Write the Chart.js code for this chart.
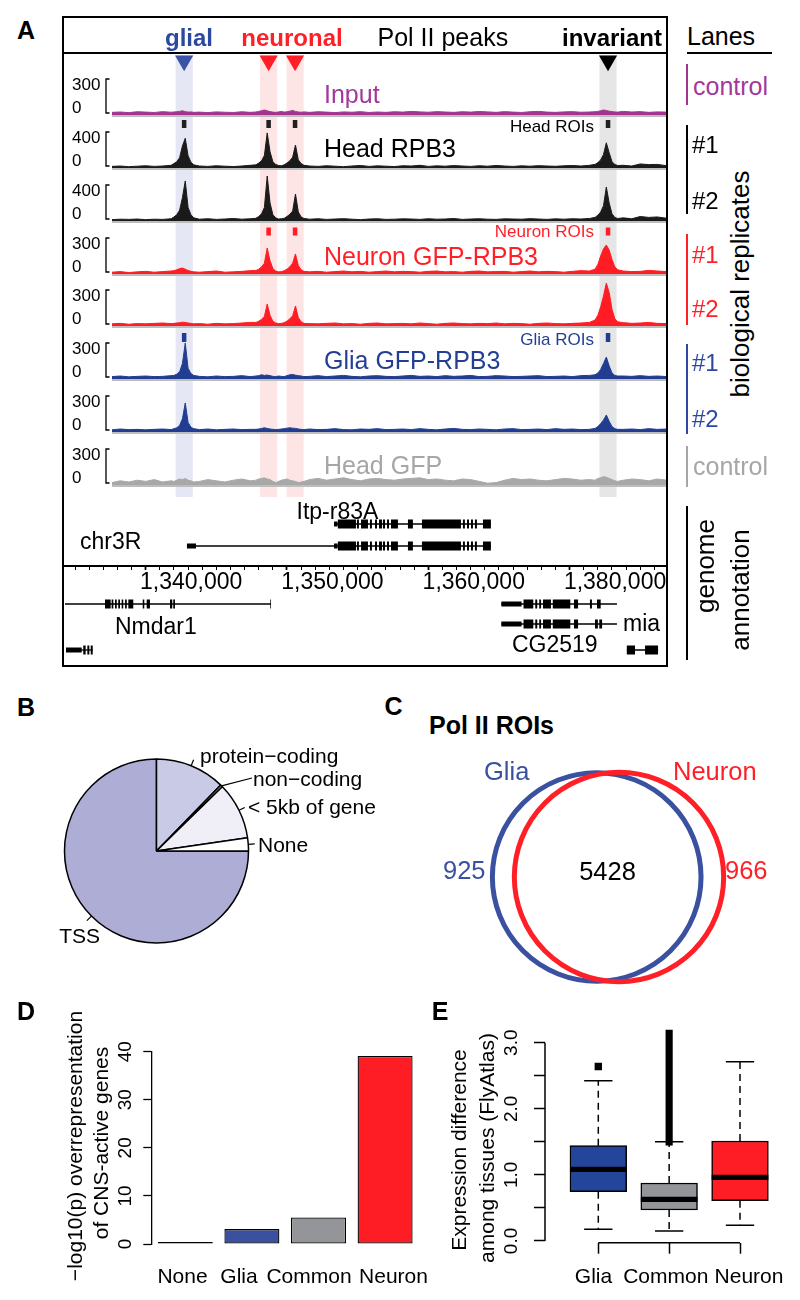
<!DOCTYPE html>
<html><head><meta charset="utf-8">
<script src="https://cdn.jsdelivr.net/npm/chart.js@4.4.1/dist/chart.umd.min.js"></script>
<style>
html,body{margin:0;padding:0;background:#fff;}
body{width:800px;height:1300px;position:relative;overflow:hidden;font-family:"Liberation Sans",Arial,Helvetica,sans-serif;color:#000;}
.t{position:absolute;white-space:nowrap;line-height:1;}
canvas{position:absolute;}
.r{position:absolute;}
</style></head><body>
<script>
// ================= DATA =================
// Panel A: peaks / ROIs (genomic kb, equal-spaced axis frame)
const peakNames = ['glial','neuronal','neuronal','invariant'];
const peakKb = [1342.72, 1348.70, 1350.57, 1372.72];
const headROI   = [true, true, true, true];
const neuronROI = [false, true, true, true];
const gliaROI   = [true, false, false, true];

const trackNames = ['Input','Head RPB3','','Neuron GFP-RPB3','','Glia GFP-RPB3','','Head GFP'];
const trackScaleMax = [300, 400, 400, 300, 300, 300, 300, 300];

const trackX = [
 1337.6,1338.2,1338.8,1339.4,1340.0,1340.6,1341.2,1341.8,
 1342.0,1342.2,1342.4,1342.6,1342.8,1343.0,1343.2,1343.4,
 1343.8,1344.4,1345.0,1345.6,1346.2,1346.8,1347.4,
 1347.8,1348.0,1348.2,1348.4,1348.6,1348.8,1349.0,1349.2,1349.4,1349.6,1349.8,1350.0,1350.2,1350.4,1350.6,1350.8,1351.0,1351.2,
 1351.6,1352.2,1352.8,1353.4,1354.0,1354.6,1355.2,1355.8,1356.4,1357.0,
 1357.6,1358.2,1358.8,1359.4,1360.0,1360.6,1361.2,1361.8,1362.4,1363.0,
 1363.6,1364.2,1364.8,1365.4,1366.0,1366.6,1367.2,1367.8,1368.4,1369.0,
 1369.6,1370.2,1370.8,1371.4,
 1371.8,1372.0,1372.2,1372.4,1372.6,1372.8,1373.0,1373.2,1373.4,
 1373.8,1374.4,1375.0,1375.6,1376.2,1376.9];

const sigInput = [
 22,25,20,27,24,21,28,23,
 25,27,30,35,28,24,26,22,
 24,20,26,23,21,27,22,
 25,30,36,42,35,28,24,22,26,30,24,27,32,38,30,25,23,26,
 22,27,24,20,26,23,28,21,25,22, 27,24,30,26,23,28,25,22,27,24, 29,26,22,28,24,21,27,30,24,22, 26,28,23,25,
 27,30,35,42,38,32,28,26,24,
 30,25,28,22,26,24];
const sigHead1 = [
 18,22,15,20,25,18,22,30,
 50,70,115,245,330,135,65,35,
 22,18,25,20,16,22,30,
 35,55,80,140,390,180,70,40,28,25,35,55,80,120,255,90,50,30,
 22,18,25,20,15,22,28,18,24,20, 16,25,22,30,18,24,20,27,22,18, 25,20,28,22,18,24,20,26,22,19, 24,28,22,30,
 40,60,90,150,280,170,70,40,28,
 30,22,45,38,40,25];
const sigHead2 = [
 15,20,18,22,15,20,18,25,
 45,70,120,260,445,150,70,35,
 20,25,18,22,28,20,25,
 30,50,80,150,500,200,70,35,22,25,30,50,75,110,300,100,45,28,
 20,25,18,22,26,20,15,22,25,18, 20,24,22,18,25,20,22,28,18,22, 25,20,18,24,22,20,26,22,18,24, 20,25,22,28,
 40,65,100,170,378,200,80,40,28,
 35,25,50,40,45,30];
const sigNeuron1 = [
 15,20,12,18,22,15,20,25,
 28,35,45,50,40,30,22,18,
 15,20,25,15,18,22,28,
 30,40,60,90,217,110,45,25,18,20,28,40,60,90,167,70,35,22,
 18,22,15,20,25,18,22,15,20,25, 18,22,20,15,22,25,18,20,15,22, 25,18,20,22,15,20,25,18,22,20, 15,22,28,25,
 40,80,150,210,242,200,120,60,35,
 25,20,22,30,25,20];
const sigNeuron2 = [
 18,22,15,20,18,22,25,20,
 22,25,28,32,30,25,22,18,
 20,15,22,18,20,25,30,
 30,40,55,80,183,90,40,25,20,22,28,40,60,85,167,70,35,22,
 20,18,22,25,18,20,15,22,25,18, 20,22,18,25,20,15,22,25,20,18, 22,20,25,18,22,20,15,22,25,20, 18,22,25,30,
 50,90,160,250,358,280,140,60,35,
 28,22,25,30,22,20];
const sigGlia1 = [
 20,25,18,22,25,20,22,28,
 30,40,60,130,300,90,45,30,
 22,18,25,20,22,28,20,
 25,28,35,30,33,28,22,20,25,22,20,28,35,38,32,28,25,20,
 22,28,20,25,30,22,18,25,28,22, 20,25,30,22,25,20,28,22,25,30, 20,22,28,25,20,22,25,28,20,22, 25,20,28,30,
 35,50,80,130,183,110,50,30,25,
 25,22,28,22,25,20];
const sigGlia2 = [
 18,25,20,22,18,22,25,20,
 28,35,55,110,242,80,40,28,
 20,25,18,22,25,20,22,
 22,25,30,35,30,25,22,20,22,25,28,32,35,32,30,25,22,20,
 25,20,22,28,20,18,25,22,28,20, 22,25,20,28,22,18,25,30,22,20, 25,22,18,25,28,20,22,25,20,28, 22,25,20,22,
 30,45,70,100,142,90,45,28,22,
 22,25,20,28,22,25];
const sigHeadGFP = [
 20,35,25,40,30,45,25,35,
 30,40,50,45,55,40,35,25,
 30,45,35,25,40,50,35,
 40,50,55,60,50,45,30,20,30,40,45,50,40,35,30,20,25,30,
 45,55,40,50,60,45,35,50,55,45, 40,50,55,60,45,50,40,35,50,45, 30,15,20,40,55,45,50,40,35,45, 55,50,40,45,
 40,55,60,70,65,55,45,35,30,
 40,50,45,35,50,40];
const trackSignals = [sigInput, sigHead1, sigHead2, sigNeuron1, sigNeuron2, sigGlia1, sigGlia2, sigHeadGFP];

// gene models (kb)
const itpExons = [[1353.60,1354.88],[1354.95,1355.09],[1355.24,1355.73],[1355.87,1356.01],[1356.23,1356.37],[1356.51,1356.72],[1356.79,1356.94],[1357.08,1357.22],[1357.36,1357.85],[1358.56,1358.91],[1359.55,1362.31],[1362.45,1362.59],[1362.74,1362.88],[1363.02,1363.16],[1363.30,1363.44],[1363.87,1364.43]];
const transcripts = [
 {gene:'Itp-r83A', span:[1353.33,1364.43], utr:[[1353.33,1353.58]], exons:itpExons},
 {gene:'Itp-r83A', span:[1342.92,1364.43], utr:[[1342.92,1343.56],[1353.33,1353.58]], exons:itpExons},
 {gene:'Nmdar1', span:[1334.29,1348.87], utr:[], exons:[[1337.12,1337.52],[1337.59,1337.71],[1337.83,1337.95],[1338.06,1338.18],[1338.30,1338.41],[1338.54,1338.66],[1338.77,1339.12],[1339.79,1339.90],[1340.07,1340.30],[1341.72,1341.88],[1341.95,1342.07],[1348.82,1348.87]]},
 {gene:'left', span:[1334.36,1336.25], utr:[[1334.36,1335.47]], exons:[[1335.58,1335.75],[1335.87,1336.01],[1336.11,1336.25]]},
 {gene:'CG2519', span:[1365.17,1373.35], utr:[[1365.17,1366.60]], exons:[[1366.74,1367.43],[1367.57,1367.71],[1367.85,1367.98],[1368.12,1368.68],[1368.81,1370.05],[1370.31,1370.60],[1371.44,1371.58],[1371.94,1372.20],[1373.30,1373.35]]},
 {gene:'CG2519', span:[1365.17,1373.35], utr:[[1365.17,1366.60]], exons:[[1366.74,1367.43],[1367.57,1367.71],[1367.85,1367.98],[1368.12,1368.68],[1368.81,1370.05],[1370.31,1370.60],[1371.80,1372.00],[1372.10,1372.30],[1373.30,1373.35]]},
 {gene:'mia', span:[1374.05,1376.26], utr:[], exons:[[1374.05,1374.63],[1375.34,1376.26]]}
];
const axisTickKb = [1340, 1350, 1360, 1370];
const axisTickLabels = ['1,340,000','1,350,000','1,360,000','1,380,000'];

// Panel B
const pieLabels = ['TSS','protein\u2212coding','non\u2212coding','< 5kb of gene','None'];
const pieValues = [75.0, 12.3, 0.4, 10.0, 2.3];

// Panel C
const vennSets = ['Glia','Neuron'];
const vennOnly = [925, 966];
const vennShared = 5428;

// Panel D
const dCats = ['None','Glia','Common','Neuron'];
const dVals = [0.1, 3.1, 5.5, 39.1];

// Panel E
const eCats = ['Glia','Common','Neuron'];
const eLow  = [0.177, 0.151, 0.237];
const eQ1   = [0.746, 0.469, 0.610];
const eMed  = [1.085, 0.631, 0.963];
const eQ3   = [1.442, 0.877, 1.513];
const eHigh = [2.425, 1.502, 2.713];
const eOutGlia = [2.64];
const eOutCommonSpan = [1.45, 3.19];
const eTickVals = [0, 0.5, 1, 1.5, 2, 2.5, 3];
const eTickLabelVals = [0, 1, 2, 3];
const eTickLabels = ['0.0','1.0','2.0','3.0'];

// ================= STYLE / HELPERS =================
const COL = {purple:'#A2348F', black:'#1A1A1A', red:'#FF1C24', blue:'#213D92', gray:'#A8A8A8'};
const trackColors = [COL.purple, COL.black, COL.black, COL.red, COL.red, COL.blue, COL.blue, COL.gray];
const trackLabelColors = ['#A3379B','#000','#000','#FF1F26','#FF1F26','#233F94','#233F94','#A6A6A6'];
const trackLabelY = [94, 148, null, 256, null, 360, null, 465.5];

Chart.defaults.font.family = "'Liberation Sans', Arial, Helvetica, sans-serif";
Chart.defaults.color = '#000';
function opts(o){
  const p = Object.assign({legend:{display:false}, tooltip:{enabled:false}}, o.plugins||{});
  const l = Object.assign({autoPadding:false}, o.layout||{});
  return Object.assign({responsive:false, animation:false, devicePixelRatio:1, events:[]}, o, {plugins:p, layout:l});
}
function mk(l,t,w,h){
  const c=document.createElement('canvas'); c.width=w; c.height=h;
  c.style.left=l+'px'; c.style.top=t+'px'; c.style.width=w+'px'; c.style.height=h+'px';
  document.body.appendChild(c); return c;
}
function T(s,x,y,size,o={}){
  const d=document.createElement('div'); d.className='t'; d.textContent=s;
  d.style.fontSize=size+'px'; d.style.left=x+'px';
  if(o.bold) d.style.fontWeight='bold';
  if(o.color) d.style.color=o.color;
  if(o.rot){ d.style.top=y+'px'; d.style.transform='translate(-50%,-50%) rotate(-90deg)'; }
  else { d.style.top=(y-size/2)+'px'; const tx=o.align==='center'?'-50%':o.align==='right'?'-100%':'0'; d.style.transform='translateX('+tx+')'; }
  document.body.appendChild(d); return d;
}
function R(x,y,w,h,c,extra){
  const d=document.createElement('div'); d.className='r';
  d.style.left=x+'px'; d.style.top=y+'px'; d.style.width=w+'px'; d.style.height=h+'px';
  if(c) d.style.background=c; if(extra) Object.assign(d.style, extra);
  document.body.appendChild(d); return d;
}
const KB_REF=1340, KB_REF_PX=145.7, PX_PER_KB=14.13;
const kbAt = px => KB_REF + (px-KB_REF_PX)/PX_PER_KB;

// ---------- Panel A overlay: bands, triangles, ROI marks ----------
{
  const c = mk(63, 54, 604, 446);
  const bandColors = {glial:'#E5E8F4', neuronal:'#FDE4E5', invariant:'#E6E6E6'};
  const triColors = {glial:'#3A53A4', neuronal:'#FF2027', invariant:'#000'};
  const BAND_HALF = 0.62;
  const ds = [];
  peakKb.forEach((k,i)=>ds.push({type:'line', data:[{x:k-BAND_HALF,y:55},{x:k+BAND_HALF,y:55}], fill:{value:497},
    backgroundColor:bandColors[peakNames[i]], borderWidth:0, pointRadius:0, order:10}));
  const roiRows = [[headROI,120,128,'#231F20'],[neuronROI,227.5,235.5,COL.red],[gliaROI,333,342,COL.blue]];
  roiRows.forEach(([sel,y0,y1,col])=>{
    const d=[]; peakKb.forEach((k,i)=>{ if(sel[i]) d.push({x:k,y:y0},{x:k,y:y1},{x:k,y:null}); });
    ds.push({type:'line', data:d, borderColor:col, borderWidth:4.5, pointRadius:0, spanGaps:false, fill:false, borderCapStyle:'butt', order:5});
  });
  ds.push({type:'scatter', data:peakKb.map(k=>({x:k,y:60.75})), pointStyle:'triangle', rotation:180, pointRadius:10.5,
    backgroundColor:peakNames.map(n=>triColors[n]), borderWidth:0, order:1});
  new Chart(c,{type:'scatter', data:{datasets:ds}, options:opts({layout:{padding:{left:49}},
    scales:{x:{type:'linear',display:false,min:kbAt(112),max:kbAt(667)}, y:{type:'linear',display:false,min:54,max:500,reverse:true}}})});
}

// ---------- Panel A tracks ----------
const trackDecor = {
  id:'trackDecor',
  beforeDatasetsDraw(chart,args,o){
    const {ctx, chartArea:a, scales:{y}} = chart; const y0 = y.getPixelForValue(0);
    ctx.save(); ctx.strokeStyle='#BDBDBD'; ctx.lineWidth=2;
    ctx.beginPath(); ctx.moveTo(a.left,y0+1); ctx.lineTo(a.right,y0+1); ctx.stroke(); ctx.restore();
  },
  afterDraw(chart,args,o){
    const {ctx, scales:{y}} = chart;
    const yt = y.getPixelForValue(o.max), yb = y.getPixelForValue(0)-2, bx = 106-63;
    ctx.save(); ctx.strokeStyle='#000'; ctx.lineWidth=1.3;
    ctx.beginPath(); ctx.moveTo(bx+3.5,yt); ctx.lineTo(bx,yt); ctx.lineTo(bx,yb); ctx.lineTo(bx+3.5,yb); ctx.stroke();
    ctx.fillStyle='#000'; ctx.font="17px 'Liberation Sans', Arial"; ctx.textBaseline='middle'; ctx.textAlign='left';
    ctx.fillText(String(o.max), 72-63, yt+6); ctx.fillText('0', 72-63, yb-5);
    ctx.restore();
  }
};
trackSignals.forEach((vals,i)=>{
  const top = Math.round(115 + 52.86*i - 50);
  const c = mk(63, top, 604, 53);
  new Chart(c,{type:'line', data:{datasets:[{data:trackX.map((x,j)=>({x, y:vals[j]})), borderColor:trackColors[i], backgroundColor:trackColors[i],
      borderWidth:1, pointRadius:0, fill:'origin', tension:0}]},
    options:opts({layout:{padding:{left:49,right:0,top:0,bottom:3}},
      scales:{x:{type:'linear',display:false,min:kbAt(112),max:kbAt(667)}, y:{type:'linear',display:false,min:0,max:trackScaleMax[i]*50/36}},
      plugins:{trackDecor:{max:trackScaleMax[i]}}}),
    plugins:[trackDecor]});
});

// ---------- Panel A gene models ----------
{
  const rowY = [524, 546, 604, 650, 604, 624, 650];
  const c = mk(63, 497, 604, 170);
  const ds=[];
  transcripts.forEach((t,i)=>{
    const y=rowY[i];
    const seg = arr => arr.flatMap(([a,b])=>[{x:a,y},{x:b,y},{x:b,y:null}]);
    ds.push({type:'line', data:[{x:t.span[0],y},{x:t.span[1],y}], borderColor:'#000', borderWidth:1.3, pointRadius:0, order:3});
    if(t.utr.length) ds.push({type:'line', data:seg(t.utr), borderColor:'#000', borderWidth:5, pointRadius:0, spanGaps:false, borderCapStyle:'butt', order:2});
    ds.push({type:'line', data:seg(t.exons), borderColor:'#000', borderWidth:9, pointRadius:0, spanGaps:false, borderCapStyle:'butt', order:1});
  });
  new Chart(c,{type:'scatter', data:{datasets:ds}, options:opts({
    scales:{x:{type:'linear',display:false,min:kbAt(63),max:kbAt(667)}, y:{type:'linear',display:false,min:497,max:667,reverse:true}}})});
}

// ---------- Panel A genome axis ----------
{
  const c = mk(63, 540, 604, 62);
  new Chart(c,{type:'scatter', data:{datasets:[{data:[]}]}, options:opts({
    scales:{
      x:{type:'linear', position:'bottom', min:kbAt(63), max:kbAt(667),
        afterBuildTicks:s=>{const t=[]; for(let k=Math.ceil(s.min);k<=Math.floor(s.max);k++) t.push({value:k}); s.ticks=t;},
        afterFit:s=>{s.height=36;},
        grid:{drawOnChartArea:false, tickLength:4, tickColor:'#000', tickWidth:(ctx)=> (ctx.tick && axisTickKb.includes(ctx.tick.value)) ? 1.8 : 1},
        border:{color:'#000', width:2},
        ticks:{autoSkip:false, maxRotation:0, minRotation:0, align:'start', labelOffset:-5.7, padding:1.5, color:'#000',
          font:{size:23, lineHeight:1}, callback:(v)=>{const i=axisTickKb.indexOf(v); return i>=0?axisTickLabels[i]:'';}}
      },
      y:{display:false, min:0, max:1}
    }})});
}

// ---------- Panel B pie ----------
const pieLeaders = {
  id:'pieLeaders',
  afterDatasetsDraw(chart,args,o){
    const {ctx}=chart; const meta=chart.getDatasetMeta(0);
    ctx.save(); ctx.strokeStyle='#000'; ctx.lineWidth=1.2;
    meta.data.forEach((arc,i)=>{
      const p=arc.getProps(['x','y','startAngle','endAngle','outerRadius'],true);
      const m=(p.startAngle+p.endAngle)/2;
      const x0=p.x+Math.cos(m)*p.outerRadius, y0=p.y+Math.sin(m)*p.outerRadius;
      const e=o.ends[i];
      const x1 = e ? p.x+e[0] : p.x+Math.cos(m)*p.outerRadius*o.factor;
      const y1 = e ? p.y+e[1] : p.y+Math.sin(m)*p.outerRadius*o.factor;
      ctx.beginPath(); ctx.moveTo(x0,y0); ctx.lineTo(x1,y1); ctx.stroke();
    });
    ctx.restore();
  }
};
{
  const c = mk(0, 730, 400, 230);
  new Chart(c,{type:'pie', data:{labels:pieLabels, datasets:[{data:pieValues,
      backgroundColor:['#ADADD6','#C9CBE6','#DCDCEE','#F0EFF7','#FFFFFF'], borderColor:'#000', borderWidth:1.5}]},
    options:opts({rotation:90, layout:{padding:{left:63.75, top:28.25, right:150.75, bottom:16.25}},
      plugins:{pieLeaders:{factor:1.07, ends:[null,null,[95.5,-73],null,null]}}}),
    plugins:[pieLeaders]});
}

// ---------- Panel C venn ----------
{
  const c = mk(470, 752, 280, 250);
  const unit = 22.3;
  const totals = vennOnly.map(v=>v+vennShared);
  const K = 104.5/Math.sqrt((totals[0]+totals[1])/2);
  const cols = ['#3A50A0','#FF1F26'];
  new Chart(c,{type:'bubble', data:{datasets:vennSets.map((s,i)=>({data:[{x:i,y:0,r:K*Math.sqrt(totals[i])}],
      backgroundColor:'rgba(0,0,0,0)', borderColor:cols[i], borderWidth:5, order:2-i, clip:false}))},
    options:opts({scales:{x:{type:'linear',display:false,min:-(596.7-470)/unit,max:(750-596.7)/unit}, y:{type:'linear',display:false,min:-1,max:1}}})});
}

// ---------- R-style axis plugin ----------
const rAxis = {
  id:'rAxis',
  afterDraw(chart,args,o){
    const {ctx}=chart; ctx.save(); ctx.strokeStyle='#000'; ctx.lineWidth=1.5;
    if(o.y){const s=chart.scales.y; ctx.beginPath(); ctx.moveTo(s.right,s.getPixelForValue(o.y[0])); ctx.lineTo(s.right,s.getPixelForValue(o.y[1])); ctx.stroke();}
    if(o.x){const s=chart.scales.x; ctx.beginPath(); ctx.moveTo(s.getPixelForValue(o.x[0]),s.top); ctx.lineTo(s.getPixelForValue(o.x[1]),s.top); ctx.stroke();}
    ctx.restore();
  }
};

// ---------- Panel D bars ----------
{
  const c = mk(0, 1000, 440, 300);
  new Chart(c,{type:'bar', data:{labels:dCats, datasets:[{data:dVals, backgroundColor:['#FFFFFF','#3A51A1','#939598','#FF1D25'],
      borderColor:'#000', borderWidth:1.3, borderSkipped:false, barPercentage:0.826, categoryPercentage:1, minBarLength:2}]},
    options:opts({layout:{padding:{top:51.7, right:21.6}},
      scales:{
        x:{type:'category', offset:true, grid:{display:false, drawTicks:false}, border:{display:false},
           ticks:{display:false}, afterFit:s=>{s.height=56;}},
        y:{type:'linear', min:0, max:40, ticks:{stepSize:10, minRotation:90, maxRotation:90, crossAlign:'center', padding:7, color:'#000', font:{size:19,lineHeight:1}},
           grid:{drawOnChartArea:false, tickLength:8.7, tickColor:'#000', tickWidth:1.3}, border:{color:'#000', width:1.3}, afterFit:s=>{s.width=152;}}
      }})});
}

// ---------- Panel E boxplot ----------
{
  const c = mk(400, 990, 400, 310);
  const fills = ['#24469A','#939598','#FF1D25'];
  const whisk=[], caps=[], meds=[];
  eCats.forEach((n,i)=>{
    const x=i+1;
    whisk.push({x,y:eQ3[i]},{x,y:eHigh[i]},{x,y:null},{x,y:eQ1[i]},{x,y:eLow[i]},{x,y:null});
    caps.push({x:x-0.2,y:eHigh[i]},{x:x+0.2,y:eHigh[i]},{x,y:null},{x:x-0.2,y:eLow[i]},{x:x+0.2,y:eLow[i]},{x,y:null});
    meds.push({x:x-0.4,y:eMed[i]},{x:x+0.4,y:eMed[i]},{x,y:null});
  });
  new Chart(c,{type:'bar', data:{datasets:[
      {type:'bar', data:eCats.map((n,i)=>({x:i+1,y:[eQ1[i],eQ3[i]]})), backgroundColor:fills, borderColor:'#000', borderWidth:1.5, borderSkipped:false, barThickness:56.7, grouped:false, order:6},
      {type:'bar', data:[{x:2,y:eOutCommonSpan}], backgroundColor:'#000', borderWidth:0, barThickness:6.5, grouped:false, order:5},
      {type:'line', data:whisk, borderColor:'#000', borderWidth:1.5, borderDash:[7,5], pointRadius:0, spanGaps:false, fill:false, order:4},
      {type:'line', data:caps, borderColor:'#000', borderWidth:1.5, pointRadius:0, spanGaps:false, fill:false, order:3},
      {type:'line', data:meds, borderColor:'#000', borderWidth:5.3, pointRadius:0, spanGaps:false, fill:false, borderCapStyle:'butt', order:2},
      {type:'scatter', data:eOutGlia.map(v=>({x:1,y:v})), pointStyle:'rect', pointRadius:5.2, backgroundColor:'#000', borderWidth:0, order:1}
    ]},
    options:opts({layout:{padding:{top:36.2, right:10}},
      scales:{
        x:{type:'linear', offset:false, min:1-(598.3-545)/70.85, max:3+(790-740)/70.85,
           afterBuildTicks:s=>{s.ticks=eCats.map((n,i)=>({value:i+1}));},
           ticks:{display:false},
           grid:{offset:false, drawOnChartArea:false, tickLength:11, tickColor:'#000', tickWidth:1.5}, border:{display:false}, afterFit:s=>{s.height=57.3;}},
        y:{type:'linear', min:-0.026, max:3.25,
           afterBuildTicks:s=>{s.ticks=eTickVals.map(v=>({value:v}));},
           ticks:{autoSkip:false, minRotation:90, maxRotation:90, crossAlign:'center', padding:9, color:'#000', font:{size:19,lineHeight:1},
             callback:(v)=>{const i=eTickLabelVals.indexOf(v); return i>=0?eTickLabels[i]:'';}},
           grid:{offset:false, drawOnChartArea:false, tickLength:11, tickColor:'#000', tickWidth:1.5}, border:{display:false}, afterFit:s=>{s.width=145;}}
      },
      plugins:{rAxis:{x:[1,3], y:[0,3]}}}),
    plugins:[rAxis]});
}

// ================= TEXT & FRAME =================
R(62,16,606,651,null,{border:'2px solid #000', boxSizing:'border-box'});
R(62,52,606,2,'#000');

T('A',26,30,25,{bold:true,align:'center'});
T('glial',189,37.5,24,{bold:true,align:'center',color:'#2B49A0'});
T('neuronal',292,37.5,24,{bold:true,align:'center',color:'#FF1F26'});
T('Pol II peaks',377.5,37.5,25);
T('invariant',612,37.5,24,{bold:true,align:'center'});

trackNames.forEach((n,i)=>{ if(n) T(n,324,trackLabelY[i],25,{color:trackLabelColors[i]}); });
T('Head ROIs',594,126.5,17,{align:'right'});
T('Neuron ROIs',594,231.5,17,{align:'right',color:'#FF1F26'});
T('Glia ROIs',594,339.5,17,{align:'right',color:'#233F94'});

T('Itp-r83A',296.5,511,23);
T('chr3R',80,541.7,23);
T('Nmdar1',115,626.7,23);
T('CG2519',512,644,23);
T('mia',623,623.5,23);

// lanes column
T('Lanes',687,36,25);
R(687,52,85,2,'#000');
R(686,64,2,41,'#A2348F'); T('control',693,86,25,{color:'#A3379B'});
R(686,125,2,89,'#000'); T('#1',692,145,24); T('#2',692,201,24);
R(686,234,2,91,'#FF1F26'); T('#1',692,255,24,{color:'#FF1F26'}); T('#2',692,309,24,{color:'#FF1F26'});
R(686,344,2,90,'#2B49A0'); T('#1',692,363,24,{color:'#2B49A0'}); T('#2',692,419,24,{color:'#2B49A0'});
R(686,446,2,41,'#A6A6A6'); T('control',693,466,25,{color:'#A6A6A6'});
R(686,506,2,154,'#000');
T('biological replicates',739.5,284,26,{rot:true});
T('genome',705,566,26,{rot:true});
T('annotation',739.5,590,26,{rot:true});

// panel B
T('B',26,707,25,{bold:true,align:'center'});
T(pieLabels[1],200,755,21);
T(pieLabels[2],253,778,21);
T(pieLabels[3],248,806.4,21);
T(pieLabels[4],258,844.2,21);
T(pieLabels[0],100,935.2,21,{align:'right'});

// panel C
T('C',393.5,706.5,25,{bold:true,align:'center'});
T('Pol II ROIs',429,725.8,25,{bold:true});
T(vennSets[0],484,771.7,25.5,{color:'#3A50A0'});
T(vennSets[1],673,772,25.5,{color:'#FF1F26'});
T(String(vennOnly[0]),443,870.5,25.5,{color:'#3A50A0'});
T(String(vennShared),607.5,871.5,25.5,{align:'center'});
T(String(vennOnly[1]),725,870.5,25.5,{color:'#FF1F26'});

// panel D
T('D',26,1011,25,{bold:true,align:'center'});
T('\u2212log10(p) overrepresentation',74.2,1145.8,21,{rot:true});
T('of CNS-active genes',100.2,1142.5,21,{rot:true});
const dLabelX = [182.5, 239, 309, 393.5];
dCats.forEach((n,i)=>T(n,dLabelX[i],1275.7,21,{align:'center'}));

// panel E
T('E',440,1011,25,{bold:true,align:'center'});
T('Expression difference',457.5,1150,21,{rot:true});
T('among tissues (FlyAtlas)',485.5,1147.5,21,{rot:true});
const eLabelX = [593.5, 665.8, 749];
eCats.forEach((n,i)=>T(n,eLabelX[i],1275.7,21,{align:'center'}));
</script>
</body></html>
